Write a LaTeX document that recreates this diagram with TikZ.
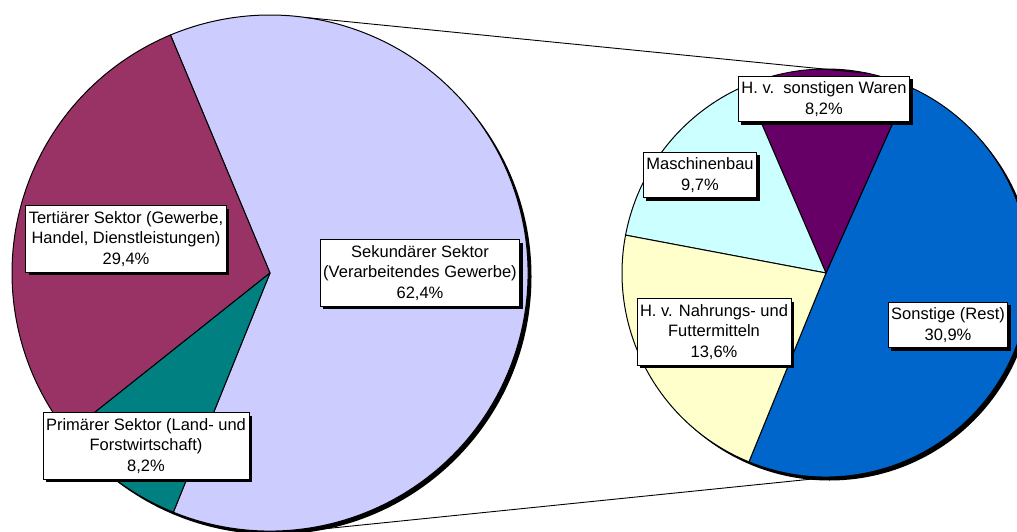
\documentclass[tikz,border=0pt]{standalone}
\usepackage{fontspec}
\setmainfont{Liberation Sans}
\usetikzlibrary{shadows}
\definecolor{sekc}{HTML}{CCCCFF}
\definecolor{terc}{HTML}{993366}
\definecolor{primc}{HTML}{008080}
\definecolor{restc}{HTML}{0066CC}
\definecolor{warenc}{HTML}{660066}
\definecolor{maschc}{HTML}{CCFFFF}
\definecolor{nahrc}{HTML}{FFFFCC}
\newcommand\lblfont{\fontsize{16.5}{20.7}\selectfont}
\begin{document}
\begin{tikzpicture}[x=1pt,y=1pt,
  slice/.style={draw=black, line width=1pt, line join=round},
  pieshadow/.style={fill=black},
  connector/.style={draw=black, line width=0.9pt},
  lbl/.style={draw=black, fill=white, line width=0.8pt, align=center, font=\lblfont,
    inner xsep=3pt, inner ysep=5.5pt,
    general shadow={shadow xshift=3pt, shadow yshift=-3pt, fill=black}}]
\clip (0,0) rectangle (1017,531);
\fill[white] (0,0) rectangle (1017,531);
\coordinate (L) at (270,258);
\coordinate (R) at (826,258);
% pie shadows
\fill[pieshadow] (273.5,254.5) circle[radius=258];
\fill[pieshadow] (829.5,254.5) circle[radius=204];
% left pie
\filldraw[slice, fill=sekc] (L) -- ++(248:258) arc[start angle=248, end angle=472.7, radius=258] -- cycle;
\filldraw[slice, fill=terc] (L) -- ++(112.7:258) arc[start angle=112.7, end angle=218.5, radius=258] -- cycle;
\filldraw[slice, fill=primc] (L) -- ++(218.5:258) arc[start angle=218.5, end angle=248, radius=258] -- cycle;
% right pie
\filldraw[slice, fill=restc] (R) -- ++(247.8:204) arc[start angle=247.8, end angle=426, radius=204] -- cycle;
\filldraw[slice, fill=warenc] (R) -- ++(66:204) arc[start angle=66, end angle=113.3, radius=204] -- cycle;
\filldraw[slice, fill=maschc] (R) -- ++(113.3:204) arc[start angle=113.3, end angle=169.3, radius=204] -- cycle;
\filldraw[slice, fill=nahrc] (R) -- ++(169.3:204) arc[start angle=169.3, end angle=247.8, radius=204] -- cycle;
% connector ends
\path (L) ++(82:258) coordinate (ltop);
\path (L) ++(276:260) coordinate (lbot);
\path (R) ++(78:204) coordinate (rtop);
\path (R) ++(267:206) coordinate (rbot);
\draw[connector] (ltop) -- (rtop);
\draw[connector] (lbot) -- (rbot);
% labels
\node[lbl] (tert) at (126,292) {Tertiärer Sektor (Gewerbe,\\Handel, Dienstleistungen)\\29,4\%};
\node[lbl] (sek) at (420,258) {Sekundärer Sektor\\(Verarbeitendes Gewerbe)\\62,4\%};
\node[lbl] (prim) at (146,85) {Primärer Sektor (Land- und\\Forstwirtschaft)\\8,2\%};
\node[lbl] (waren) at (824,432) {H. v.\ \ sonstigen Waren\\8,2\%};
\node[lbl] (masch) at (700,356) {Maschinenbau\\9,7\%};
\node[lbl] (nahr) at (714,199) {H. v. Nahrungs- und\\Futtermitteln\\13,6\%};
\node[lbl] (sonst) at (948,206) {Sonstige (Rest)\\30,9\%};
\end{tikzpicture}
\end{document}
